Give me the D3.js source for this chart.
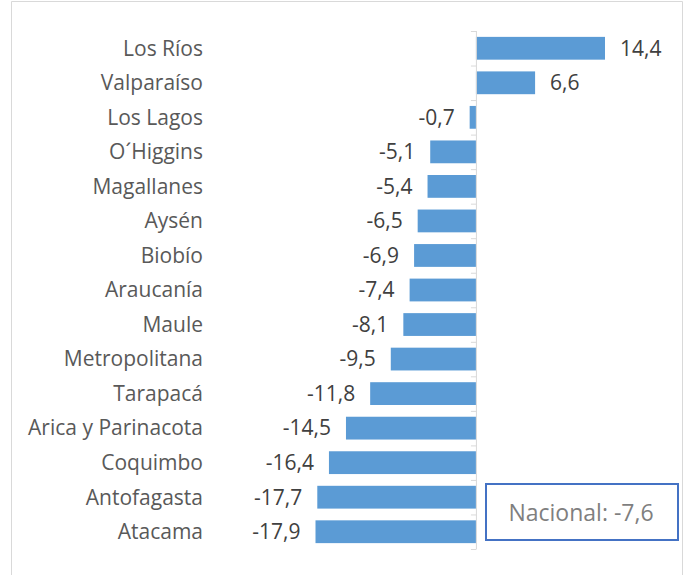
<!DOCTYPE html>
<html>
<head>
<meta charset="utf-8">
<script src="https://cdn.jsdelivr.net/npm/d3@7"></script>
<style>
  body { margin: 0; background: #fff; }
  svg { display: block; font-family: "Open Sans", "Liberation Sans", sans-serif; }
</style>
</head>
<body>
<div id="chart"></div>
<script>
const regions = ['Los Ríos', 'Valparaíso', 'Los Lagos', 'O´Higgins', 'Magallanes', 'Aysén',
  'Biobío', 'Araucanía', 'Maule', 'Metropolitana', 'Tarapacá', 'Arica y Parinacota',
  'Coquimbo', 'Antofagasta', 'Atacama'];
const values = [14.4, 6.6, -0.7, -5.1, -5.4, -6.5, -6.9, -7.4, -8.1, -9.5, -11.8, -14.5, -16.4, -17.7, -17.9];
const nacional = -7.6;

const width = 689, height = 575;
const fmt = v => d3.format('.1f')(v).replace('.', ',').replace('−', '-');

const svg = d3.select('#chart').append('svg')
    .attr('width', width)
    .attr('height', height);

// outer frame (cut off at the bottom)
svg.append('path')
    .attr('d', `M11.5,${height} V1.5 H682.5 V${height}`)
    .attr('fill', 'none')
    .attr('stroke', '#d9d9d9')
    .attr('stroke-width', 1);

const x = d3.scaleLinear().domain([-17.9, 14.4]).range([315.5, 605]);
const y = d3.scaleBand().domain(regions).range([31, 549]).paddingInner(0.34).paddingOuter(0.17);

// bars
svg.selectAll('rect.bar')
    .data(values)
    .enter()
    .append('rect')
    .attr('class', 'bar')
    .attr('x', d => x(Math.min(0, d)))
    .attr('y', (d, i) => y(regions[i]))
    .attr('width', d => Math.abs(x(d) - x(0)))
    .attr('height', y.bandwidth())
    .attr('fill', '#5b9bd5');

// category axis at zero
svg.append('line')
    .attr('x1', x(0) + 0.5).attr('x2', x(0) + 0.5)
    .attr('y1', 31).attr('y2', 549)
    .attr('stroke', '#d9d9d9');
svg.selectAll('line.tick')
    .data(d3.range(regions.length + 1))
    .enter()
    .append('line')
    .attr('class', 'tick')
    .attr('x1', x(0) - 5).attr('x2', x(0) + 0.5)
    .attr('y1', i => 31 + i * y.step() + 0.5)
    .attr('y2', i => 31 + i * y.step() + 0.5)
    .attr('stroke', '#d9d9d9');

// category labels
svg.selectAll('text.cat')
    .data(regions)
    .enter()
    .append('text')
    .attr('class', 'cat')
    .attr('x', 203)
    .attr('y', d => y(d) + y.bandwidth() / 2)
    .attr('dy', '0.35em')
    .attr('text-anchor', 'end')
    .attr('font-size', 21)
    .attr('fill', '#595959')
    .text(d => d);

// value labels
svg.selectAll('text.val')
    .data(values)
    .enter()
    .append('text')
    .attr('class', 'val')
    .attr('x', d => d >= 0 ? x(d) + 15 : x(d) - 15)
    .attr('y', (d, i) => y(regions[i]) + y.bandwidth() / 2)
    .attr('dy', '0.35em')
    .attr('text-anchor', d => d >= 0 ? 'start' : 'end')
    .attr('font-size', 21)
    .attr('fill', '#404040')
    .text(d => fmt(d));

// Nacional box
svg.append('rect')
    .attr('x', 486).attr('y', 484)
    .attr('width', 192).attr('height', 56)
    .attr('fill', '#fff')
    .attr('stroke', '#4472c4')
    .attr('stroke-width', 2);
svg.append('text')
    .attr('x', 581).attr('y', 513)
    .attr('dy', '0.35em')
    .attr('text-anchor', 'middle')
    .attr('font-size', 23)
    .attr('fill', '#7f7f7f')
    .text('Nacional: ' + fmt(nacional));
</script>
</body>
</html>
